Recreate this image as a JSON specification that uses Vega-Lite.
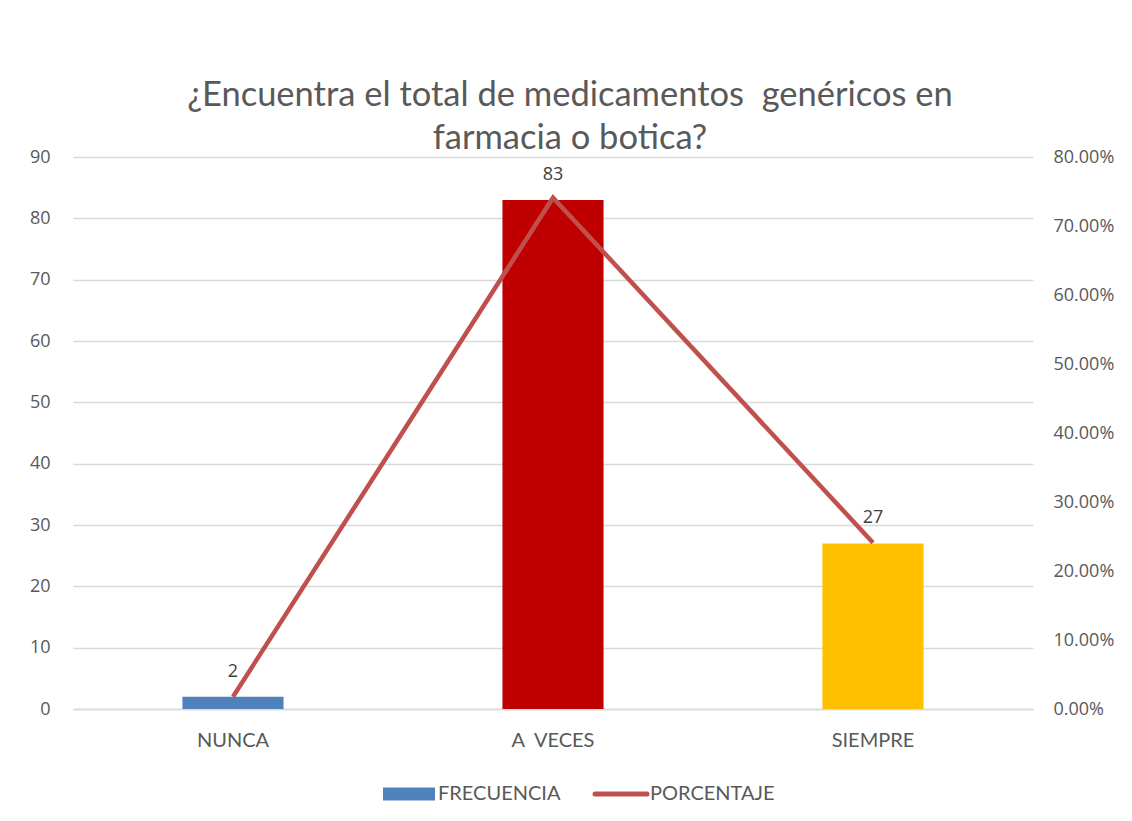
{
  "$schema": "https://vega.github.io/schema/vega-lite/v6.json",
  "autosize": "none",
  "padding": {"left": 73, "top": 157, "right": 99, "bottom": 112},
  "width": 960,
  "height": 552,
  "background": "white",
  "config": {"view": {"stroke": null}},
  "title": {
    "text": ["¿Encuentra el total de medicamentos\u00a0 genéricos en", "farmacia o botica?"],
    "anchor": "middle",
    "frame": "group",
    "font": "Lato",
    "fontSize": 34.5,
    "fontWeight": "normal",
    "color": "#595959",
    "lineHeight": 43,
    "dx": 17,
    "offset": -8
  },
  "data": {
    "values": [
      {"categoria": "NUNCA", "frecuencia": 2, "porcentaje": 0.017857, "serie": "PORCENTAJE"},
      {"categoria": "A\u00a0 VECES", "frecuencia": 83, "porcentaje": 0.741071, "serie": "PORCENTAJE"},
      {"categoria": "SIEMPRE", "frecuencia": 27, "porcentaje": 0.241071, "serie": "PORCENTAJE"}
    ]
  },
  "encoding": {
    "x": {
      "field": "categoria",
      "type": "nominal",
      "sort": null,
      "scale": {"paddingInner": 0.684, "paddingOuter": 0.342},
      "axis": {
        "title": null,
        "labelAngle": 0,
        "labelFont": "Lato",
        "labelFontSize": 20,
        "labelColor": "#595959",
        "labelPadding": 21,
        "ticks": false,
        "domainColor": "#D9D9D9",
        "domainWidth": 1.5,
        "grid": false
      }
    }
  },
  "layer": [
    {
      "layer": [
        {
          "mark": {"type": "bar"},
          "encoding": {
            "fill": {
              "field": "categoria",
              "type": "nominal",
              "scale": {"domain": ["NUNCA", "A\u00a0 VECES", "SIEMPRE"], "range": ["#4F81BD", "#C00000", "#FFC000"]},
              "legend": null
            }
          }
        },
        {
          "mark": {"type": "text", "baseline": "bottom", "dy": -16, "font": "Open Sans", "fontSize": 18, "color": "#404040"},
          "encoding": {
            "text": {"field": "frecuencia", "type": "quantitative"}
          }
        }
      ],
      "encoding": {
        "y": {
          "field": "frecuencia",
          "type": "quantitative",
          "scale": {"domain": [0, 90]},
          "axis": {
            "title": null,
            "values": [0, 10, 20, 30, 40, 50, 60, 70, 80, 90],
            "labelFont": "Open Sans",
            "labelFontSize": 18,
            "labelColor": "#595959",
            "labelPadding": 23,
            "ticks": false,
            "domain": false,
            "grid": true,
            "gridColor": "#D9D9D9",
            "gridWidth": 1.5
          }
        }
      }
    },
    {
      "mark": {"type": "line", "strokeWidth": 4.5},
      "encoding": {
        "y": {
          "field": "porcentaje",
          "type": "quantitative",
          "scale": {"domain": [0, 0.8]},
          "axis": {
            "title": null,
            "orient": "right",
            "format": ".2%",
            "values": [0, 0.1, 0.2, 0.3, 0.4, 0.5, 0.6, 0.7, 0.8],
            "labelFont": "Open Sans",
            "labelFontSize": 18,
            "labelColor": "#595959",
            "labelPadding": 20,
            "ticks": false,
            "domain": false,
            "grid": false
          }
        },
        "stroke": {
          "field": "serie",
          "type": "nominal",
          "scale": {"domain": ["FRECUENCIA", "PORCENTAJE"], "range": ["#4F81BD", "#C0504D"]},
          "legend": {
            "title": null,
            "orient": "none",
            "direction": "horizontal",
            "legendX": 326,
            "legendY": 627,
            "labelFont": "Lato",
            "labelFontSize": 20,
            "labelColor": "#595959",
            "labelOffset": 19,
            "columnPadding": 24,
            "symbolSize": 2704,
            "symbolStrokeWidth": 5,
            "encode": {
              "symbols": {
                "update": {
                  "shape": {"signal": "datum.value === 'FRECUENCIA' ? 'M-1,-0.25H1V0.25H-1Z' : 'M-1,0H1'"},
                  "fill": {"signal": "datum.value === 'FRECUENCIA' ? '#4F81BD' : 'transparent'"},
                  "strokeWidth": {"signal": "datum.value === 'FRECUENCIA' ? 0 : 5"},
                  "strokeCap": {"value": "round"}
                }
              }
            }
          }
        }
      }
    }
  ],
  "resolve": {"scale": {"y": "independent"}}
}
